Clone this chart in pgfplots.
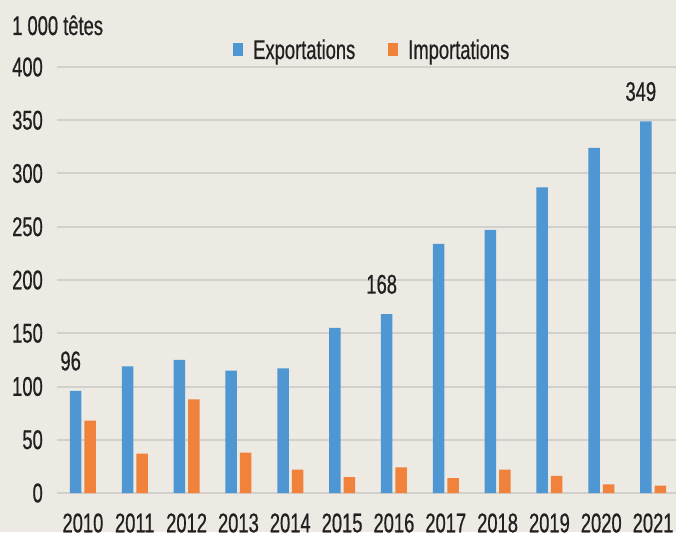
\documentclass[border=0pt]{standalone}
\usepackage{pgfplots}
\pgfplotsset{compat=1.18}
\usepackage{pgfplotstable}
\usepackage{fontspec}
\setmainfont{Liberation Sans}[FakeStretch=0.68, FakeBold=0.6]
\definecolor{bgcol}{HTML}{EDEAE3}
\definecolor{gridcol}{HTML}{D2D0CC}
\definecolor{expcol}{HTML}{4F97D3}
\definecolor{impcol}{HTML}{F0823C}
\definecolor{txtcol}{HTML}{231F20}

\pgfplotstableread{
x exp imp lab
0  96 68 96
1  119 37 {}
2  125 88 {}
3  115 38 {}
4  117 22 {}
5  155 15 {}
6  168 24 168
7  234 14 {}
8  247 22 {}
9  287 16 {}
10 324 8  {}
11 349 7  349
}\cattle

\newcommand\chartfont{\fontsize{27}{30}\selectfont}

\begin{document}
\begin{tikzpicture}
\fill[bgcol, use as bounding box] (0,0) rectangle (676pt,532pt);
\begin{axis}[
    at={(57pt,39pt)}, anchor=south west,
    scale only axis,
    width=622pt, height=426pt,
    xmin=-0.5, xmax=11.5,
    ymin=0, ymax=400,
    ybar=3pt,
    bar width=11.5pt,
    xtick={0,...,11},
    xticklabels={2010,2011,2012,2013,2014,2015,2016,2017,2018,2019,2020,2021},
    ytick={0,50,...,400},
    ymajorgrids,
    major grid style={draw=gridcol, line width=2pt},
    axis line style={draw=none},
    tick style={draw=none},
    /pgf/number format/assume math mode=true,
    /pgf/number format/1000 sep={},
    ticklabel style={font=\chartfont, text=txtcol},
    yticklabel style={inner sep=0pt, xshift=-14pt},
    xticklabel style={inner sep=0pt, anchor=north, yshift=-16pt, text depth=0pt},
    legend columns=2,
    legend style={draw=none, fill=none, inner sep=0pt, at={(0.283,1.04)}, anchor=west,
        font=\chartfont, text=txtcol,
        nodes={inner sep=0pt},
        /tikz/every odd column/.append style={column sep=10pt},
        /tikz/every even column/.append style={column sep=33pt}},
    legend image code/.code={\fill[#1] (0pt,-6.5pt) rectangle (10pt,6.5pt);},
    clip=false,
]
\addplot[fill=expcol, draw=none, point meta=explicit symbolic,
    nodes near coords,
    nodes near coords style={font=\chartfont, text=txtcol, anchor=south, inner sep=0pt, yshift=20pt, xshift=-5pt}]
    table[x=x, y=exp, meta=lab] {\cattle};
\addlegendentry{Exportations}
\addplot[fill=impcol, draw=none] table[x=x, y=imp] {\cattle};
\addlegendentry{Importations}
\end{axis}
\node[anchor=base west, inner sep=0pt, font=\chartfont, text=txtcol] at (12pt,497pt) {1 000 têtes};
\end{tikzpicture}
\end{document}
